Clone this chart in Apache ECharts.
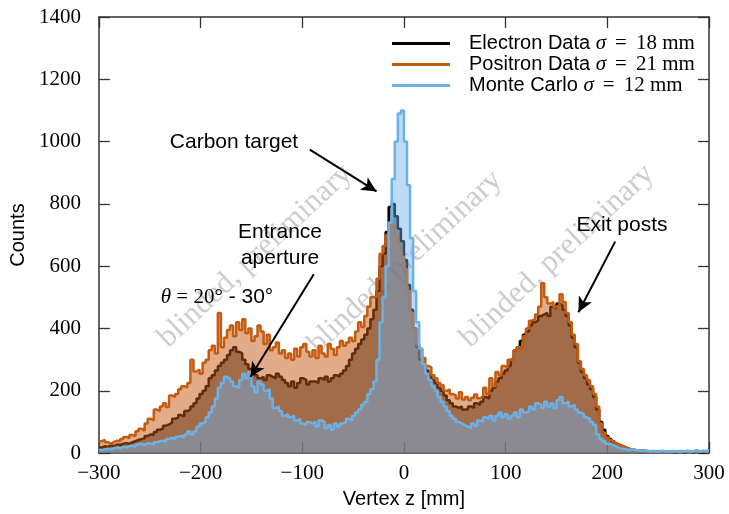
<!DOCTYPE html>
<html>
<head>
<meta charset="utf-8">
<script src="https://cdn.jsdelivr.net/npm/echarts@6/dist/echarts.min.js"></script>
<style>
  html, body { margin: 0; padding: 0; background: #fff; }
  #chart { width: 729px; height: 514px; }
</style>
</head>
<body>
<div id="chart"></div>
<script>
// Histogram binning: 200 bins of 3 mm from -300 mm to +300 mm
const BIN_START = -300;
const BIN_WIDTH = 3;

// Counts per bin, electron beam data
const electron = [
  18, 22, 20, 25, 22, 28, 26, 30, 32, 30,
  35, 38, 42, 45, 48, 55, 60, 58, 68, 75,
  78, 88, 92, 98, 110, 115, 122, 118, 135, 140,
  150, 160, 175, 190, 200, 215, 240, 250, 265, 280,
  290, 300, 315, 330, 340, 325, 320, 300, 285, 270,
  265, 250, 240, 245, 235, 250, 245, 240, 255, 245,
  235, 225, 215, 230, 210, 225, 240, 235, 220, 230,
  230, 225, 240, 235, 245, 230, 240, 250, 245, 255,
  265, 280, 300, 320, 335, 350, 365, 380, 400, 430,
  460, 520, 600, 640, 710, 790, 800, 760, 720, 680,
  620, 540, 460, 400, 340, 300, 285, 265, 250, 235,
  225, 210, 200, 185, 170, 160, 150, 145, 150, 140,
  140, 150, 145, 160, 155, 165, 180, 175, 200, 210,
  230, 240, 255, 265, 280, 300, 330, 340, 360, 380,
  390, 410, 420, 425, 440, 445, 450, 440, 470, 465,
  480, 475, 460, 440, 410, 370, 340, 290, 260, 240,
  220, 205, 180, 140, 100, 75, 55, 45, 38, 30,
  25, 20, 16, 13, 11, 9, 8, 7, 7, 6,
  5, 5, 5, 4, 4, 4, 4, 4, 3, 4,
  4, 3, 4, 4, 3, 4, 4, 3, 4, 4
];

// Counts per bin, positron beam data
const positron = [
  38, 42, 35, 30, 36, 40, 38, 45, 52, 48,
  58, 55, 70, 78, 72, 95, 110, 105, 140, 135,
  150, 160, 148, 185, 180, 190, 205, 215, 210, 225,
  300, 262, 268, 255, 290, 300, 330, 345, 320, 450,
  340, 370, 395, 410, 375, 420, 395, 430, 385, 400,
  360, 375, 410, 390, 350, 380, 330, 340, 355, 320,
  330, 305, 320, 300, 335, 310, 340, 350, 325, 310,
  330, 305, 345, 320, 310, 350, 335, 315, 340, 360,
  345, 355, 370, 360, 390, 420, 405, 440, 470, 500,
  500, 560, 640, 665, 700, 720, 730, 700, 670, 630,
  590, 520, 450, 400, 350, 335, 305, 280, 275, 250,
  240, 225, 218, 200, 205, 190, 185, 175, 195, 172,
  180, 170, 178, 188, 176, 182, 210, 190, 240, 215,
  260, 250, 280, 275, 300, 295, 330, 340, 335, 375,
  400, 425, 430, 445, 470, 545, 500, 480, 485, 470,
  475, 510, 485, 450, 420, 380, 350, 295, 270, 250,
  235, 215, 190, 150, 95, 65, 50, 42, 36, 30,
  26, 22, 18, 14, 12, 10, 9, 8, 8, 7,
  6, 6, 5, 5, 5, 4, 5, 4, 4, 5,
  4, 5, 4, 5, 4, 4, 5, 4, 5, 4
];

// Counts per bin, Monte Carlo simulation
const monteCarlo = [
  10, 12, 14, 12, 16, 18, 15, 20, 18, 22,
  24, 20, 28, 30, 26, 32, 30, 28, 35, 38,
  40, 36, 45, 50, 44, 52, 55, 50, 60, 70,
  60, 70, 85, 95, 100, 115, 130, 150, 175, 210,
  225, 245, 240, 230, 215, 210, 235, 255, 240, 260,
  215, 195, 230, 220, 200, 205, 175, 145, 150, 135,
  120, 125, 115, 120, 105, 110, 95, 90, 100, 95,
  100, 85, 105, 100, 80, 90, 75, 95, 85, 95,
  100, 110, 105, 120, 130, 140, 155, 165, 190, 205,
  230, 300, 420, 500, 600, 740, 880, 1000, 1090, 1100,
  1000, 860, 690, 520, 420, 335, 285, 255, 235, 215,
  200, 180, 165, 150, 135, 120, 110, 100, 95, 90,
  85, 80, 95, 88, 105, 100, 115, 110, 120, 105,
  120, 130, 115, 125, 110, 120, 130, 115, 140, 130,
  135, 150, 140, 160, 155, 145, 165, 150, 160, 145,
  170, 180, 160, 165, 150, 155, 140, 130, 125, 115,
  110, 100, 90, 60, 45, 38, 30, 28, 25, 20,
  16, 14, 12, 10, 12, 8, 9, 7, 8, 6,
  6, 7, 5, 6, 8, 5, 6, 7, 5, 6,
  7, 6, 8, 6, 7, 9, 6, 8, 7, 9
];

const seriesNames = ['Electron Data', 'Positron Data', 'Monte Carlo'];
const sigmaMm = [18, 21, 12];

const xTicks = [-300, -200, -100, 0, 100, 200, 300];
const yTicks = [0, 200, 400, 600, 800, 1000, 1200, 1400];

// Annotation arrows (tail, head) in data coordinates [z mm, counts]
const arrows = [
  [[-92.6, 974], [-27, 840]],     // carbon target
  [[-88.7, 574], [-151, 244]],    // entrance aperture
  [[207.7, 679], [171.6, 452]]    // exit posts
];

// Step-histogram points: left edge of each bin plus the closing right edge
function toSteps(counts) {
  const pts = counts.map((c, i) => [BIN_START + i * BIN_WIDTH, c]);
  pts.push([BIN_START + counts.length * BIN_WIDTH, counts[counts.length - 1]]);
  return pts;
}

const AXIS_COLOR = '#333';
const minusFmt = v => (v < 0 ? '\u2212' + Math.abs(v) : String(v));

function frameAxis(extra) {
  return Object.assign({
    type: 'value',
    axisLine: { show: true, onZero: false, lineStyle: { color: AXIS_COLOR, width: 1.5 } },
    axisTick: { show: true, inside: true, length: 11, lineStyle: { color: AXIS_COLOR, width: 1.3 } },
    splitLine: { show: false }
  }, extra);
}

const chart = echarts.init(document.getElementById('chart'), null, { renderer: 'canvas' });

const styles = [
  { line: '#000000', fill: 'rgba(0,0,0,0.5)' },
  { line: '#c55a11', fill: 'rgba(197,90,17,0.5)' },
  { line: '#6cb0e8', fill: 'rgba(108,176,232,0.45)' }
];
const datasets = [electron, positron, monteCarlo];

const series = datasets.map((d, k) => ({
  name: seriesNames[k],
  type: 'line',
  step: 'end',
  symbol: 'none',
  showSymbol: false,
  silent: true,
  animation: false,
  color: styles[k].line,
  data: toSteps(d),
  z: 2 + k,
  lineStyle: { color: styles[k].line, width: 2.5 },
  areaStyle: { color: styles[k].fill, opacity: 1 }
}));

// Arrows belong to the top-most series so they sit above every fill
series[2].markLine = {
  silent: true,
  animation: false,
  symbol: ['none', 'arrow'],
  symbolSize: [11, 15],
  label: { show: false },
  lineStyle: { color: '#000', width: 2, type: 'solid' },
  emphasis: { disabled: true },
  data: arrows.map(a => [{ coord: a[0] }, { coord: a[1] }])
};

const watermark = (cx, cy) => ({
  type: 'text',
  x: cx, y: cy,
  rotation: 43 * Math.PI / 180,
  z: 0,
  silent: true,
  style: {
    text: 'blinded, preliminary',
    font: '31px "Liberation Serif"',
    fill: '#cdcdcd',
    align: 'center',
    verticalAlign: 'middle'
  }
});

const annText = (text, cx, cy) => ({
  type: 'text',
  x: cx, y: cy,
  z: 100,
  silent: true,
  style: {
    text: text,
    font: '21px "Liberation Sans"',
    fill: '#000',
    align: 'center',
    verticalAlign: 'middle',
    lineHeight: 26
  }
});

chart.setOption({
  backgroundColor: '#fff',
  animation: false,
  grid: { left: 96, right: 20, top: 17, bottom: 60, containLabel: false },
  xAxis: [
    frameAxis({
      min: xTicks[0], max: xTicks[xTicks.length - 1], interval: 100,
      position: 'bottom',
      axisLabel: { formatter: minusFmt, color: '#000', fontFamily: 'Liberation Serif', fontSize: 21, margin: 10 },
      name: 'Vertex z [mm]', nameLocation: 'middle', nameGap: 29,
      nameTextStyle: { fontFamily: 'Liberation Sans', fontSize: 20, color: '#000' }
    }),
    frameAxis({
      min: xTicks[0], max: xTicks[xTicks.length - 1], interval: 100,
      position: 'top', axisLabel: { show: false }
    })
  ],
  yAxis: [
    frameAxis({
      min: yTicks[0], max: yTicks[yTicks.length - 1], interval: 200,
      position: 'left',
      axisLabel: { formatter: v => String(v), color: '#000', fontFamily: 'Liberation Serif', fontSize: 21, margin: 18 },
      name: 'Counts', nameLocation: 'middle', nameGap: 66,
      nameTextStyle: { fontFamily: 'Liberation Sans', fontSize: 20, color: '#000' }
    }),
    frameAxis({
      min: yTicks[0], max: yTicks[yTicks.length - 1], interval: 200,
      position: 'right', axisLabel: { show: false }
    })
  ],
  legend: {
    orient: 'vertical',
    left: 387,
    top: 28,
    icon: 'rect',
    itemWidth: 58,
    itemHeight: 3,
    itemGap: 0,
    selectedMode: false,
    data: seriesNames,
    formatter: name => {
      const i = seriesNames.indexOf(name);
      return '{s|' + name + ' }{m|\u03c3}{e|=}{r|' + sigmaMm[i] + ' mm}';
    },
    textStyle: {
      color: '#000',
      fontSize: 20,
      lineHeight: 19.5,
      padding: [0, 0, 0, 14],
      rich: {
        s: { fontFamily: 'Liberation Sans', fontSize: 20, lineHeight: 19.5 },
        m: { fontFamily: 'Liberation Serif', fontStyle: 'italic', fontSize: 21, lineHeight: 19.5 },
        e: { fontFamily: 'Liberation Serif', fontSize: 21, lineHeight: 19.5, padding: [0, 9, 0, 9] },
        r: { fontFamily: 'Liberation Serif', fontSize: 21, lineHeight: 19.5 }
      }
    }
  },
  graphic: [
    watermark(255, 256),
    watermark(405, 262),
    watermark(557, 256),
    annText('Carbon target', 234, 142),
    annText('Entrance\naperture', 280, 245),
    annText('Exit posts', 622, 225),
    {
      type: 'text',
      x: 217, y: 297, z: 100, silent: true,
      style: {
        rich: {
          m: { font: 'italic 21px "Liberation Serif"', fill: '#000' },
          r: { font: '21px "Liberation Serif"', fill: '#000' },
          s: { font: '21px "Liberation Sans"', fill: '#000' }
        },
        text: '{m|\u03b8}{r| = 20\u00b0}{s| - 30\u00b0}',
        align: 'center',
        verticalAlign: 'middle'
      }
    }
  ],
  series: series
});
</script>
</body>
</html>
